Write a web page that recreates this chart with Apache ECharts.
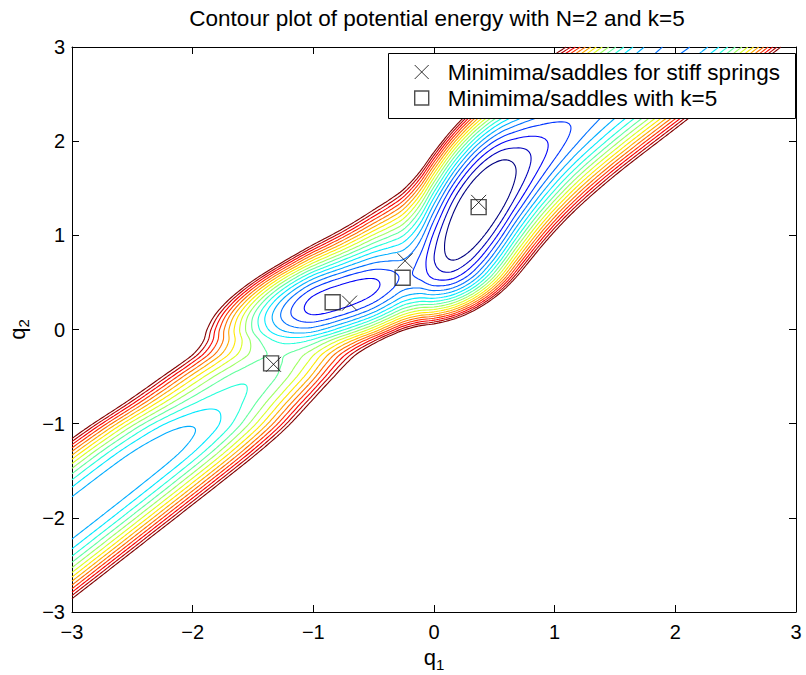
<!DOCTYPE html>
<html><head><meta charset="utf-8">
<script src="https://cdn.jsdelivr.net/npm/echarts@6/dist/echarts.min.js"></script>
<style>html,body{margin:0;padding:0;background:#fff}#c{width:806px;height:675px}</style>
</head><body><div id="c"></div>
<script>
// ---------------- values ----------------
const titleText = 'Contour plot of potential energy with N=2 and k=5';
const springK = 5;          // k from the title
const restLength = 1.0;     // valley centre: q2 - q1 far from the wells
// on-site potential U(q) felt by each bead (estimated from the contour shapes)
const potQ = [-3.5, -2.0, -1.6, -1.35, -1.2, -1.03, -0.9, -0.78, -0.64, -0.5, -0.36, -0.25, -0.12, 0.0, 0.15, 0.29, 0.42, 0.55, 0.7, 0.9, 1.1, 1.3, 1.6, 2.0, 2.5, 3.0, 3.5];
const potU = [0.045, 0.045, 0.05, 0.065, 0.1, 0.17, 0.27, 0.36, 0.43, 0.48, 0.54, 0.54, 0.33, -0.05, -0.45, -0.67, -0.74, -0.69, -0.52, -0.29, -0.12, -0.02, 0.04, 0.03, 0.02, 0.01, 0.01];
// contour levels
const levelFirst = -0.50;
const levelStep = 0.1433;
const levelCount = 18;
// markers
const stiffQ1 = [0.37, -0.24, -0.70, -1.33];
const stiffQ2 = [1.35, 0.73, 0.28, -0.37];
const softQ1 = [0.37, -0.26, -0.84, -1.35];
const softQ2 = [1.30, 0.55, 0.29, -0.36];
const axisTicks = [-3, -2, -1, 0, 1, 2, 3];
const legendNames = ['Minimima/saddles for stiff springs', 'Minimima/saddles with k=5'];

// ---------------- helpers ----------------
const FONT = '"Liberation Sans", Arial, Helvetica, sans-serif';
function makeSpline(xs, ys) {
  const n = xs.length, m = new Array(n);
  for (let i = 0; i < n; i++) {
    if (i === 0) m[i] = (ys[1] - ys[0]) / (xs[1] - xs[0]);
    else if (i === n - 1) m[i] = (ys[n - 1] - ys[n - 2]) / (xs[n - 1] - xs[n - 2]);
    else m[i] = (ys[i + 1] - ys[i - 1]) / (xs[i + 1] - xs[i - 1]);
  }
  return function (x) {
    if (x <= xs[0]) return ys[0];
    if (x >= xs[n - 1]) return ys[n - 1];
    let k = 0; while (x > xs[k + 1]) k++;
    const h = xs[k + 1] - xs[k], t = (x - xs[k]) / h;
    const t2 = t * t, t3 = t2 * t;
    return (2 * t3 - 3 * t2 + 1) * ys[k] + (t3 - 2 * t2 + t) * h * m[k] + (-2 * t3 + 3 * t2) * ys[k + 1] + (t3 - t2) * h * m[k + 1];
  };
}
const onSite = makeSpline(potQ, potU);

function jet(t) {
  const c = v => Math.max(0, Math.min(1, v));
  const r = c(Math.min(4 * t - 1.5, -4 * t + 4.5));
  const g = c(Math.min(4 * t - 0.5, -4 * t + 3.5));
  const b = c(Math.min(4 * t + 0.5, -4 * t + 2.5));
  return 'rgb(' + Math.round(r * 255) + ',' + Math.round(g * 255) + ',' + Math.round(b * 255) + ')';
}

// potential on a grid
const NX = 301, lo = axisTicks[0], hi = axisTicks[axisTicks.length - 1];
const gx = []; for (let i = 0; i < NX; i++) gx.push(lo + (hi - lo) * i / (NX - 1));
const Ug = gx.map(onSite);
const V = new Float64Array(NX * NX);
for (let j = 0; j < NX; j++) for (let i = 0; i < NX; i++) {
  const d = gx[j] - gx[i] - restLength;
  V[j * NX + i] = Ug[i] + Ug[j] + 0.5 * springK * d * d;
}

function contourLines(lev) {
  const pts = new Map(), adj = new Map(), segs = [];
  const key = (t, i, j) => t * 1e7 + j * 1000 + i;
  function hp(i, j) { const a = V[j * NX + i], b = V[j * NX + i + 1]; const t = (lev - a) / (b - a); return [gx[i] + t * (gx[i + 1] - gx[i]), gx[j]]; }
  function vp(i, j) { const a = V[j * NX + i], b = V[(j + 1) * NX + i]; const t = (lev - a) / (b - a); return [gx[i], gx[j] + t * (gx[j + 1] - gx[j])]; }
  function seg(e1, e2) {
    const id = segs.length; segs.push([e1[0], e2[0]]);
    for (const e of [e1, e2]) { if (!pts.has(e[0])) pts.set(e[0], e[1]); if (!adj.has(e[0])) adj.set(e[0], []); adj.get(e[0]).push(id); }
  }
  for (let j = 0; j < NX - 1; j++) for (let i = 0; i < NX - 1; i++) {
    const a = V[j * NX + i], b = V[j * NX + i + 1], c = V[(j + 1) * NX + i + 1], d = V[(j + 1) * NX + i];
    const idx = (a > lev ? 1 : 0) | (b > lev ? 2 : 0) | (c > lev ? 4 : 0) | (d > lev ? 8 : 0);
    if (idx === 0 || idx === 15) continue;
    const B = () => [key(0, i, j), hp(i, j)], R = () => [key(1, i + 1, j), vp(i + 1, j)];
    const T = () => [key(0, i, j + 1), hp(i, j + 1)], L = () => [key(1, i, j), vp(i, j)];
    const ctr = (a + b + c + d) / 4 > lev;
    switch (idx) {
      case 1: case 14: seg(L(), B()); break;
      case 2: case 13: seg(B(), R()); break;
      case 3: case 12: seg(L(), R()); break;
      case 4: case 11: seg(R(), T()); break;
      case 6: case 9: seg(B(), T()); break;
      case 7: case 8: seg(L(), T()); break;
      case 5: if (ctr) { seg(B(), R()); seg(T(), L()); } else { seg(L(), B()); seg(R(), T()); } break;
      case 10: if (ctr) { seg(L(), B()); seg(R(), T()); } else { seg(B(), R()); seg(T(), L()); } break;
    }
  }
  const used = new Uint8Array(segs.length), out = [];
  function walk(start, acc) {
    let cur = start;
    for (;;) {
      const list = adj.get(cur); let nx = -1;
      for (const s of list) if (!used[s]) { nx = s; break; }
      if (nx < 0) break;
      used[nx] = 1;
      const o = segs[nx][0] === cur ? segs[nx][1] : segs[nx][0];
      acc.push(o); cur = o;
    }
  }
  for (let s = 0; s < segs.length; s++) {
    if (used[s]) continue; used[s] = 1;
    const fwd = [segs[s][0], segs[s][1]]; walk(segs[s][1], fwd);
    const back = []; walk(segs[s][0], back);
    const chain = back.reverse().concat(fwd);
    out.push(chain.map(k => pts.get(k)));
  }
  return out;
}

const series = [];
for (let li = 0; li < levelCount; li++) {
  const lev = levelFirst + li * levelStep;
  const col = jet(li / (levelCount - 1));
  for (const line of contourLines(lev)) {
    series.push({
      type: 'line', data: line, showSymbol: false, symbol: 'none', silent: true,
      lineStyle: { color: col, width: 1.1 }, z: 2, animation: false, clip: true
    });
  }
}
const markStyle = { color: 'rgba(0,0,0,0)', borderColor: '#000', borderWidth: 1 };
const boxStyle = { color: 'rgba(0,0,0,0)', borderColor: '#222', borderWidth: 1.4 };
const xIcon = 'path://M0,0L10,10M10,0L0,10';
series.push({
  name: legendNames[0], type: 'scatter', data: stiffQ1.map((v, i) => [v, stiffQ2[i]]),
  symbol: xIcon, symbolSize: 15, itemStyle: markStyle, z: 4, silent: true, animation: false
});
series.push({
  name: legendNames[1], type: 'scatter', data: softQ1.map((v, i) => [v, softQ2[i]]),
  symbol: 'rect', symbolSize: 15, itemStyle: boxStyle, z: 4, silent: true, animation: false
});

const minus = v => String(v).replace('-', '\u2212');
const axisCommon = {
  type: 'value', min: axisTicks[0], max: axisTicks[axisTicks.length - 1], interval: 1,
  axisLine: { show: true, onZero: false, lineStyle: { color: '#000', width: 1 } },
  axisTick: { show: true, inside: true, length: 7, lineStyle: { color: '#000', width: 1 } },
  splitLine: { show: false }
};
const nameRich = {
  q: { fontSize: 22, lineHeight: 28, fontFamily: FONT, color: '#000' },
  s: { fontSize: 15, lineHeight: 15, verticalAlign: 'bottom', fontFamily: FONT, color: '#000' }
};
const option = {
  animation: false,
  backgroundColor: '#fff',
  grid: { left: 72, right: 10, top: 47, bottom: 63, containLabel: false, outerBoundsMode: 'none' },
  xAxis: [
    Object.assign({}, axisCommon, { position: 'bottom',
      axisLabel: { color: '#000', fontSize: 20, margin: 10, fontFamily: FONT, formatter: minus, showMinLabel: true, showMaxLabel: true },
      name: '{q|q}{s|1}', nameLocation: 'middle', nameGap: 26,
      nameTextStyle: { color: '#000', fontFamily: FONT, rich: nameRich } }),
    Object.assign({}, axisCommon, { position: 'top', axisLabel: { show: false } })
  ],
  yAxis: [
    Object.assign({}, axisCommon, { position: 'left',
      axisLabel: { color: '#000', fontSize: 20, margin: 7, fontFamily: FONT, formatter: minus, showMinLabel: true, showMaxLabel: true },
      name: '{q|q}{s|2}', nameLocation: 'middle', nameGap: 36,
      nameTextStyle: { color: '#000', fontFamily: FONT, rich: nameRich } }),
    Object.assign({}, axisCommon, { position: 'right', axisLabel: { show: false } })
  ],
  legend: {
    data: [
      { name: legendNames[0], icon: xIcon, itemStyle: markStyle },
      { name: legendNames[1], icon: 'rect', itemStyle: boxStyle }
    ],
    orient: 'vertical', left: 414, top: 60, padding: 0, itemWidth: 14, itemHeight: 14, itemGap: 2,
    selectedMode: false, z: 10,
    textStyle: { fontSize: 22.5, color: '#000', fontFamily: FONT, lineHeight: 24, padding: [0, 0, 0, 14] }
  },
  graphic: [
    { type: 'rect', z: 8, shape: { x: 388.5, y: 53.5, width: 407, height: 65 },
      style: { fill: '#fff', stroke: '#000', lineWidth: 1 } },
    { type: 'text', z: 10, x: 437, y: 7,
      style: { text: titleText, textAlign: 'center', textVerticalAlign: 'top', fontSize: 22.5, fontFamily: FONT, fill: '#000' } }
  ],
  series: series
};
const chart = echarts.init(document.getElementById('c'), null, { renderer: 'svg', width: 806, height: 675 });
chart.setOption(option);
</script></body></html>
